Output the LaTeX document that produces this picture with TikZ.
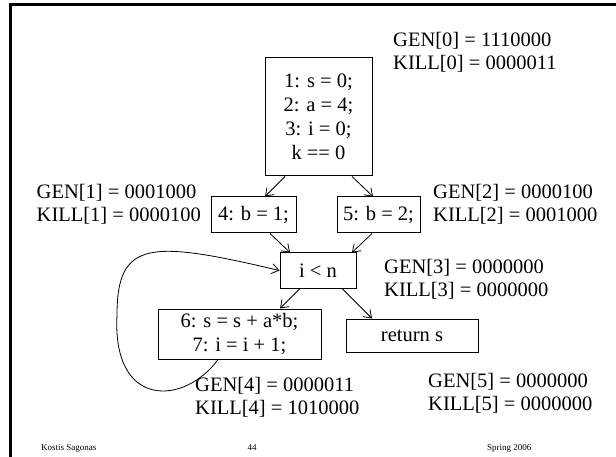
\documentclass[tikz,border=0pt]{standalone}
\usepackage{fontspec}
\setmainfont{Liberation Serif}
\usetikzlibrary{arrows.meta}
\begin{document}
\begin{tikzpicture}[x=1pt,y=-1pt,
  blk/.style={draw,line width=1pt,inner sep=0pt,align=center,font=\fontsize{20.5}{24}\selectfont},
  lab/.style={anchor=base west,inner sep=0pt,font=\fontsize{20.5}{23}\selectfont},
  foot/.style={anchor=base west,inner sep=0pt,font=\fontsize{9}{10}\selectfont},
  arr/.style={line width=0.8pt,-{Straight Barb[length=7pt,width=10pt]}}]
\useasboundingbox (0,0) rectangle (616,457);
\draw[line width=2.5pt] (10.5,457) -- (10.5,4.5) -- (616,4.5);
% blocks
\node[blk,minimum width=107pt,minimum height=118pt] (b0) at (318.5,117) {1: s = 0;\\2: a = 4;\\3: i = 0;\\k == 0};
\node[blk,minimum width=85pt,minimum height=36pt] (b1) at (253.5,215) {4: b = 1;};
\node[blk,minimum width=83pt,minimum height=36pt] (b2) at (378.5,215) {5: b = 2;};
\node[blk,minimum width=76pt,minimum height=35pt] (b3) at (318,270.5) {i {\char"003C} n};
\node[blk,minimum width=163pt,minimum height=50pt] (b4) at (239.5,334) {6: s = s + a*b;\\7: i = i + 1;};
\node[blk,minimum width=132pt,minimum height=33pt] (b5) at (412,335.5) {return s};
% edges
\draw[arr] ([xshift=-33.5pt]b0.south) -- ([xshift=11.5pt]b1.north);
\draw[arr] ([xshift=33.5pt]b0.south) -- ([xshift=-5.5pt]b2.north);
\draw[arr] ([xshift=16.5pt]b1.south) -- ([xshift=-28pt]b3.north);
\draw[arr] ([xshift=-6.5pt]b2.south) -- ([xshift=34pt]b3.north);
\draw[arr] ([xshift=-18pt]b3.south) -- ([xshift=40.5pt]b4.north);
\draw[arr] ([xshift=24pt]b3.south) -- ([xshift=-40pt]b5.north);
\draw[arr] ([xshift=-21.5pt]b4.south) .. controls (185,405) and (112,410) .. (117,315)
  .. controls (117,240) and (150,240) .. (b3.west);
% labels
\node[lab] (g0) at (393,47) {GEN[0] = 1110000};
\node[lab] (k0) at (393,70) {KILL[0] = 0000011};
\node[lab] (g1) at (36.5,199) {GEN[1] = 0001000};
\node[lab] (k1) at (36.5,222) {KILL[1] = 0000100};
\node[lab] (g2) at (433,199) {GEN[2] = 0000100};
\node[lab] (k2) at (433,222) {KILL[2] = 0001000};
\node[lab] (g3) at (384,273) {GEN[3] = 0000000};
\node[lab] (k3) at (384,296) {KILL[3] = 0000000};
\node[lab] (g4) at (195,391) {GEN[4] = 0000011};
\node[lab] (k4) at (195,414) {KILL[4] = 1010000};
\node[lab] (g5) at (428,387) {GEN[5] = 0000000};
\node[lab] (k5) at (428,410) {KILL[5] = 0000000};
% footer
\node[foot] (f1) at (41,450) {Kostis Sagonas};
\node[foot,anchor=base] (f2) at (252,450) {44};
\node[foot] (f3) at (487,450) {Spring 2006};
\end{tikzpicture}
\end{document}
